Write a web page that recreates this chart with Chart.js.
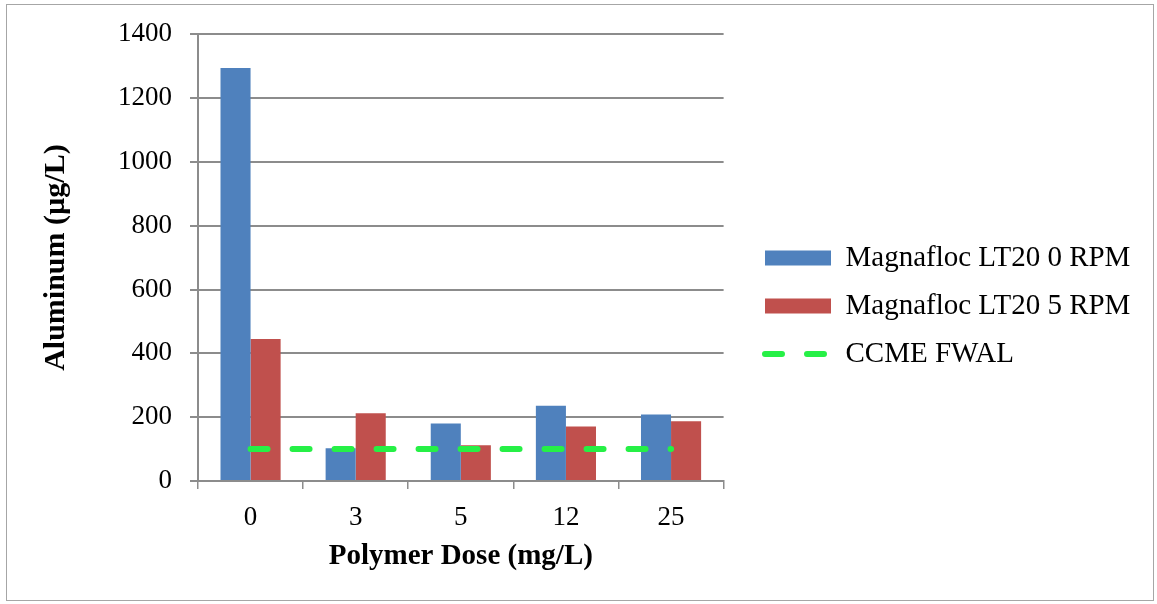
<!DOCTYPE html>
<html>
<head>
<meta charset="utf-8">
<script src="https://cdn.jsdelivr.net/npm/chart.js@4.4.1/dist/chart.umd.min.js"></script>
<style>
html,body{margin:0;padding:0;background:#fff;}
canvas{display:block;}
</style>
</head>
<body>
<canvas id="c" width="1157" height="604"></canvas>
<script>
// ---- data ----
const categories = ['0', '3', '5', '12', '25'];
const seriesNames = ['Magnafloc LT20 0 RPM', 'Magnafloc LT20 5 RPM', 'CCME FWAL'];
const lt20Rpm0 = [1294, 103, 180, 236, 208];
const lt20Rpm5 = [445, 212, 112, 171, 187];
const ccmeFwal = [100, 100, 100, 100, 100];
const yMin = 0, yMax = 1400, yStep = 200;
const xTitle = 'Polymer Dose (mg/L)';
const yTitle = 'Aluminum (µg/L)';

// ---- styling ----
const FONT = '"Liberation Serif", "Times New Roman", serif';
const GRID = '#8c8c8c';
const BLUE = '#4F81BD';
const RED = '#C0504D';
const GREEN = '#26F046';

const frame = {
  id: 'frame',
  beforeLayout(chart) {
    const lg = chart.legend;
    if (lg && !lg._wide) {
      const orig = lg.update.bind(lg);
      lg.update = (maxWidth, maxHeight, margins) => orig(Math.max(maxWidth, 440), maxHeight, margins);
      lg._wide = true;
    }
  },
  beforeDraw(chart) {
    const ctx = chart.ctx;
    ctx.save();
    ctx.fillStyle = '#fff';
    ctx.fillRect(0, 0, chart.width, chart.height);
    ctx.strokeStyle = '#a6a6a6';
    ctx.lineWidth = 1;
    ctx.strokeRect(6.5, 4.5, 1147, 596);
    ctx.restore();
    const lg = chart.legend;
    if (lg) {
      const pad = lg.options.labels.padding;
      const dx = 765 - (lg.left + pad);
      lg.left += dx; lg.right += dx;
      const dy = 224.5 - lg.top;
      lg.top += dy; lg.bottom += dy;
    }
  }
};

new Chart(document.getElementById('c'), {
  type: 'bar',
  data: {
    labels: categories,
    datasets: [
      {
        type: 'line',
        label: seriesNames[2],
        data: ccmeFwal,
        borderColor: GREEN,
        backgroundColor: GREEN,
        borderWidth: 6,
        borderDash: [17, 25],
        borderCapStyle: 'round',
        pointRadius: 0,
        pointStyle: 'line',
        fill: false,
        order: 0
      },
      {
        label: seriesNames[0],
        data: lt20Rpm0,
        backgroundColor: BLUE,
        borderWidth: 0,
        categoryPercentage: 0.572,
        barPercentage: 1.0,
        order: 1
      },
      {
        label: seriesNames[1],
        data: lt20Rpm5,
        backgroundColor: RED,
        borderWidth: 0,
        categoryPercentage: 0.572,
        barPercentage: 1.0,
        order: 2
      }
    ]
  },
  options: {
    responsive: false,
    animation: false,
    devicePixelRatio: 1,
    layout: { padding: { left: 34, top: 22, right: 39, bottom: 26 } },
    plugins: {
      tooltip: { enabled: false },
      legend: {
        position: 'right',
        align: 'start',
        labels: {
          font: { family: FONT, size: 29 },
          color: '#000',
          usePointStyle: true,
          pointStyleWidth: 66,
          boxHeight: 15,
          padding: 19,
          sort: (a, b) => {
            const rank = [2, 0, 1];
            return rank[a.datasetIndex] - rank[b.datasetIndex];
          },
          generateLabels(chart) {
            const items = Chart.defaults.plugins.legend.labels.generateLabels(chart);
            items.forEach(it => {
              if (it.datasetIndex === 0) {
                it.pointStyle = 'line';
                it.lineDash = [17, 25];
                it.lineCap = 'round';
                it.lineWidth = 6;
                it.strokeStyle = GREEN;
              } else {
                it.pointStyle = 'rect';
                it.lineWidth = 0;
              }
            });
            return items;
          }
        }
      }
    },
    scales: {
      x: {
        grid: {
          display: true,
          drawOnChartArea: false,
          drawTicks: true,
          tickLength: 8,
          color: GRID,
          lineWidth: 1.5,
          offset: true
        },
        border: { display: true, color: GRID, width: 2 },
        ticks: { font: { family: FONT, size: 27 }, color: '#000', padding: 13 },
        title: {
          display: true,
          text: xTitle,
          font: { family: FONT, size: 29, weight: 'bold', lineHeight: 1.2 },
          color: '#000',
          padding: { top: 4, bottom: 4 }
        },
        afterFit(scale) { scale.height = 97; }
      },
      y: {
        min: yMin,
        max: yMax,
        ticks: {
          stepSize: yStep,
          font: { family: FONT, size: 27 },
          color: '#000',
          padding: 18,
          callback: (v) => String(v)
        },
        grid: {
          color: GRID,
          lineWidth: 2,
          drawTicks: true,
          tickLength: 8
        },
        border: { display: true, color: GRID, width: 2 },
        title: {
          display: true,
          text: yTitle,
          font: { family: FONT, size: 30, weight: 'bold', lineHeight: 1.2 },
          color: '#000',
          padding: { top: 4, bottom: 4 }
        },
        afterFit(scale) { scale.width = 164; }
      }
    }
  },
  plugins: [frame]
});
</script>
</body>
</html>
